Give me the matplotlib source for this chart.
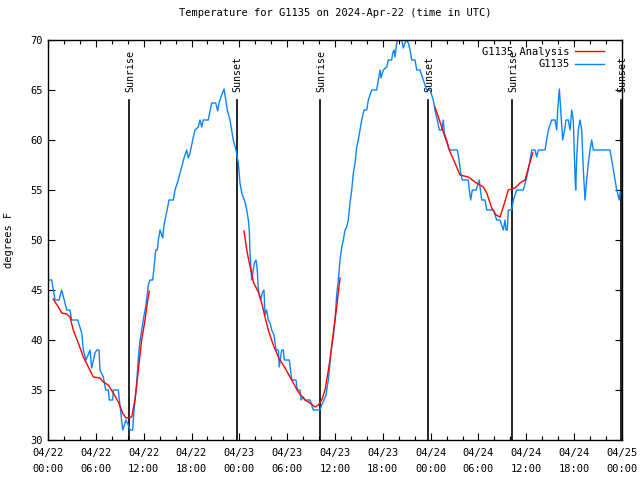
import matplotlib
matplotlib.use("Agg")
import matplotlib.pyplot as plt
from matplotlib.ticker import MultipleLocator

# hours since 2024-04-22 00:00 UTC
obs_hours = [0.04, 0.46, 0.88, 1.38, 1.72, 2.35, 2.76, 2.97, 3.73, 4.23, 4.43, 4.77, 5.27, 5.48,
             5.90, 6.11, 6.40, 6.52, 6.94, 7.24, 7.56, 7.69, 8.12, 8.19, 8.82, 9.03, 9.37, 9.78,
             10.07, 10.29, 10.62, 10.79, 11.13, 11.33, 11.50, 11.95, 12.29, 12.58, 12.79, 13.13,
             13.33, 13.51, 13.71, 13.84, 14.05, 14.39, 14.55, 14.89, 15.18, 15.72, 15.93, 16.34,
             16.77, 17.06, 17.40, 17.60, 17.81, 18.23, 18.44, 18.85, 19.07, 19.28, 19.48, 20.11,
             20.32, 20.53, 21.04, 21.29, 21.45, 21.79, 22.08, 22.29, 22.49, 22.83, 23.04, 23.24,
             23.58, 23.87, 24.08, 24.30, 24.71, 24.93, 25.13, 25.25, 25.34, 25.55, 25.75, 25.88,
             26.09, 26.25, 26.38, 26.68, 26.88, 27.09, 27.22, 27.43, 27.63, 27.85, 28.06, 28.35,
             28.60, 28.89, 29.01, 29.31, 29.52, 29.64, 30.27, 30.57, 31.11, 31.27, 31.61, 31.74,
             32.02, 32.24, 32.87, 33.08, 33.28, 34.12, 34.33, 34.62, 34.87, 35.16, 35.37, 35.59,
             35.79, 36.00, 36.21, 36.42, 36.63, 36.84, 37.04, 37.26, 37.47, 37.67, 37.88, 38.10,
             38.30, 38.51, 38.72, 38.92, 39.14, 39.35, 39.64, 39.98, 40.18, 40.61, 41.23, 41.43,
             41.65, 41.77, 42.06, 42.49, 42.69, 43.11, 43.24, 43.40, 43.53, 43.74, 43.94, 44.37,
             44.57, 44.78, 45.00, 45.20, 45.41, 45.62, 46.04, 46.25, 46.66, 47.08, 47.50, 47.92,
             48.33, 48.54, 48.83, 49.08, 49.39, 49.59, 49.71, 50.01, 50.34, 51.34, 51.56, 51.77,
             51.97, 52.72, 52.85, 53.02, 53.22, 53.69, 54.10, 54.19, 54.40, 54.82, 55.03, 55.86,
             56.07, 56.28, 56.70, 56.91, 57.11, 57.33, 57.45, 57.61, 57.74, 58.17, 58.37, 58.79,
             59.62, 59.96, 60.25, 60.46, 60.68, 61.09, 61.30, 61.50, 62.34, 62.55, 62.76, 63.18,
             63.60, 63.81, 63.93, 64.14, 64.31, 64.56, 64.73, 64.98, 65.27, 65.48, 65.69, 65.89,
             66.11, 66.19, 66.32, 66.52, 66.73, 66.94, 67.15, 67.36, 67.57, 67.78, 67.99, 68.20,
             68.40, 70.50, 70.71, 70.91, 71.12, 71.34, 71.66, 71.75]
obs_temp = [46, 46, 44, 44, 45, 43, 43, 42, 42, 40.7, 39, 38, 39, 37.2,
            38.7, 39, 39, 37, 36.3, 35, 35, 34, 34, 35, 35, 33.5, 31, 32,
            31.5, 31, 31, 33, 35.7, 38.2, 39.7, 42, 43.5, 45.5, 46, 46,
            47.5, 49, 49, 50, 51, 50.2, 51.5, 52.8, 54, 54, 55, 56,
            57.3, 58.2, 59, 58.2, 58.7, 60.3, 61, 61.3, 62, 61.3, 62, 62,
            62.9, 63.7, 63.7, 62.9, 63.7, 64.5, 65.1, 64, 63, 62, 61, 60,
            59, 57.7, 55.7, 54.7, 53.8, 53, 52, 51, 48.7, 46, 47, 47.7,
            48, 47, 45, 44, 44.7, 45, 42.5, 43, 42, 41.7, 41, 40.5,
            39, 39, 37.3, 39, 39, 38, 38, 36, 36, 35, 35, 34,
            34.3, 34, 34, 33.5, 33, 33, 33.5, 34, 34.5, 36, 37.7, 39.5,
            40.3, 42, 44.5, 46, 48, 49.2, 50, 51, 51.3, 52, 53.7, 55,
            56.7, 57.7, 59.3, 60, 61, 62, 63, 63, 64, 65, 65, 66,
            67, 66.2, 67, 67.3, 68, 68, 68.7, 69, 68.3, 69.7, 70.1, 70,
            69.2, 69.7, 70, 69.7, 69, 68, 68, 67, 67, 66, 65, 65,
            64, 63, 62, 61, 61, 62, 60.7, 60, 59, 59, 58, 56.7,
            56, 56, 55, 54, 55, 55, 56, 55.3, 54, 54, 53, 53,
            52.5, 52, 52, 51.5, 51, 52, 51, 51, 53, 53, 54, 55,
            55, 56, 57, 58, 59, 59, 58.3, 59, 59, 60, 61, 62,
            62, 61, 63, 65.1, 63, 60, 60.7, 62, 62, 61, 63, 62,
            56.3, 55, 58.3, 61, 62, 61, 57, 54, 56, 57.7, 59, 60,
            59, 59, 58, 57, 56, 55, 54, 54.7]

# analysis curve, three separate pieces
ana1_hours = [0.66, 1.29, 1.72, 2.35, 2.76, 3.17, 3.80, 4.43, 5.06, 5.68, 6.52, 6.94, 7.56,
              8.19, 8.82, 9.37, 9.78, 10.50, 10.91, 11.33, 11.75, 12.17, 12.46, 12.71]
ana1_temp = [44.1, 43.3, 42.7, 42.6, 42.3, 41, 39.7, 38.3, 37.3, 36.3, 36.2, 35.8, 35.5,
             34.7, 33.8, 32.7, 32.2, 32.3, 34, 37, 40, 42, 43.7, 44.9]
ana2_hours = [24.59, 24.93, 25.25, 25.55, 25.75, 26.38, 26.81, 27.22, 27.63, 28.26, 28.89,
              29.73, 30.57, 31.40, 32.24, 32.87, 33.49, 33.91, 34.33, 34.75, 34.96, 35.37,
              35.79, 36.21, 36.63]
ana2_temp = [50.9, 49, 47.7, 46.7, 45.8, 44.8, 43.7, 42.3, 41, 39.5, 38.3,
             37.2, 36, 34.8, 34, 33.7, 33.3, 33.5, 34, 35, 36, 38,
             40.7, 43.3, 46.2]
ana3_hours = [48.54, 48.96, 49.80, 50.43, 51.05, 51.68, 52.72, 53.56, 54.60, 55.03, 55.66,
              56.20, 56.70, 57.11, 57.74, 58.58, 59.21, 59.84, 60.25, 60.80]
ana3_temp = [63.3, 62.3, 60.3, 58.8, 57.7, 56.5, 56.3, 55.8, 55.3, 54.7, 53.2,
             52.5, 52.3, 53.3, 55, 55.2, 55.7, 56, 57.2, 58.7]

sun_hours = [10.2, 23.65, 34.12, 47.7, 58.25, 71.9]
sun_labels = ["Sunrise", "Sunset", "Sunrise", "Sunset", "Sunrise", "Sunset"]

tick_hours = [0, 6, 12, 18, 24, 30, 36, 42, 48, 54, 60, 66, 72]
tick_labels = ["04/22\n00:00", "04/22\n06:00", "04/22\n12:00", "04/22\n18:00",
               "04/23\n00:00", "04/23\n06:00", "04/23\n12:00", "04/23\n18:00",
               "04/24\n00:00", "04/24\n06:00", "04/24\n12:00", "04/24\n18:00",
               "04/25\n00:00"]

plt.rcParams['font.family'] = ['DejaVu Sans Mono']
plt.rcParams['font.size'] = 7.5

fig = plt.figure(figsize=(6.4, 4.8), dpi=100)
ax = fig.add_axes([48 / 640, 40 / 480, 574 / 640, 400 / 480])

# sunrise / sunset markers
for h, lab in zip(sun_hours, sun_labels):
    ax.plot([h, h], [30, 64.0], color='black', lw=1.2, zorder=1)
    ax.text(h + 0.15, 64.8, lab, rotation=90, ha='center', va='bottom', fontsize=7.2)

ax.plot(ana1_hours, ana1_temp, color='#ff0000', lw=1.0, label='G1135 Analysis', zorder=3)
ax.plot(ana2_hours, ana2_temp, color='#ff0000', lw=1.0, zorder=3)
ax.plot(ana3_hours, ana3_temp, color='#ff0000', lw=1.0, zorder=3)
ax.plot(obs_hours, obs_temp, color='#0a84ff', lw=1.0, label='G1135', zorder=2)

ax.set_xlim(0, 72)
ax.set_ylim(30, 70)
ax.set_xticks(tick_hours)
ax.set_xticklabels(tick_labels, linespacing=1.7)
ax.xaxis.set_minor_locator(MultipleLocator(2))
ax.yaxis.set_major_locator(MultipleLocator(5))
ax.tick_params(which='both', direction='in', top=True, right=True)
ax.tick_params(which='major', length=5, width=0.8)
ax.tick_params(which='minor', length=3, width=0.8)
ax.tick_params(axis='x', pad=6)
for s in ax.spines.values():
    s.set_linewidth(1.0)

ax.set_ylabel("degrees F", labelpad=12)
ax.set_title("Temperature for G1135 on 2024-Apr-22 (time in UTC)", fontsize=7.5, pad=17)

ax.legend(loc='upper right', bbox_to_anchor=(0.98, 1.0), frameon=False, markerfirst=False,
          handlelength=2.8, borderaxespad=0.25, labelspacing=0.25, handletextpad=0.5,
          fontsize=7.5)

fig.savefig("out.png", dpi=100)
